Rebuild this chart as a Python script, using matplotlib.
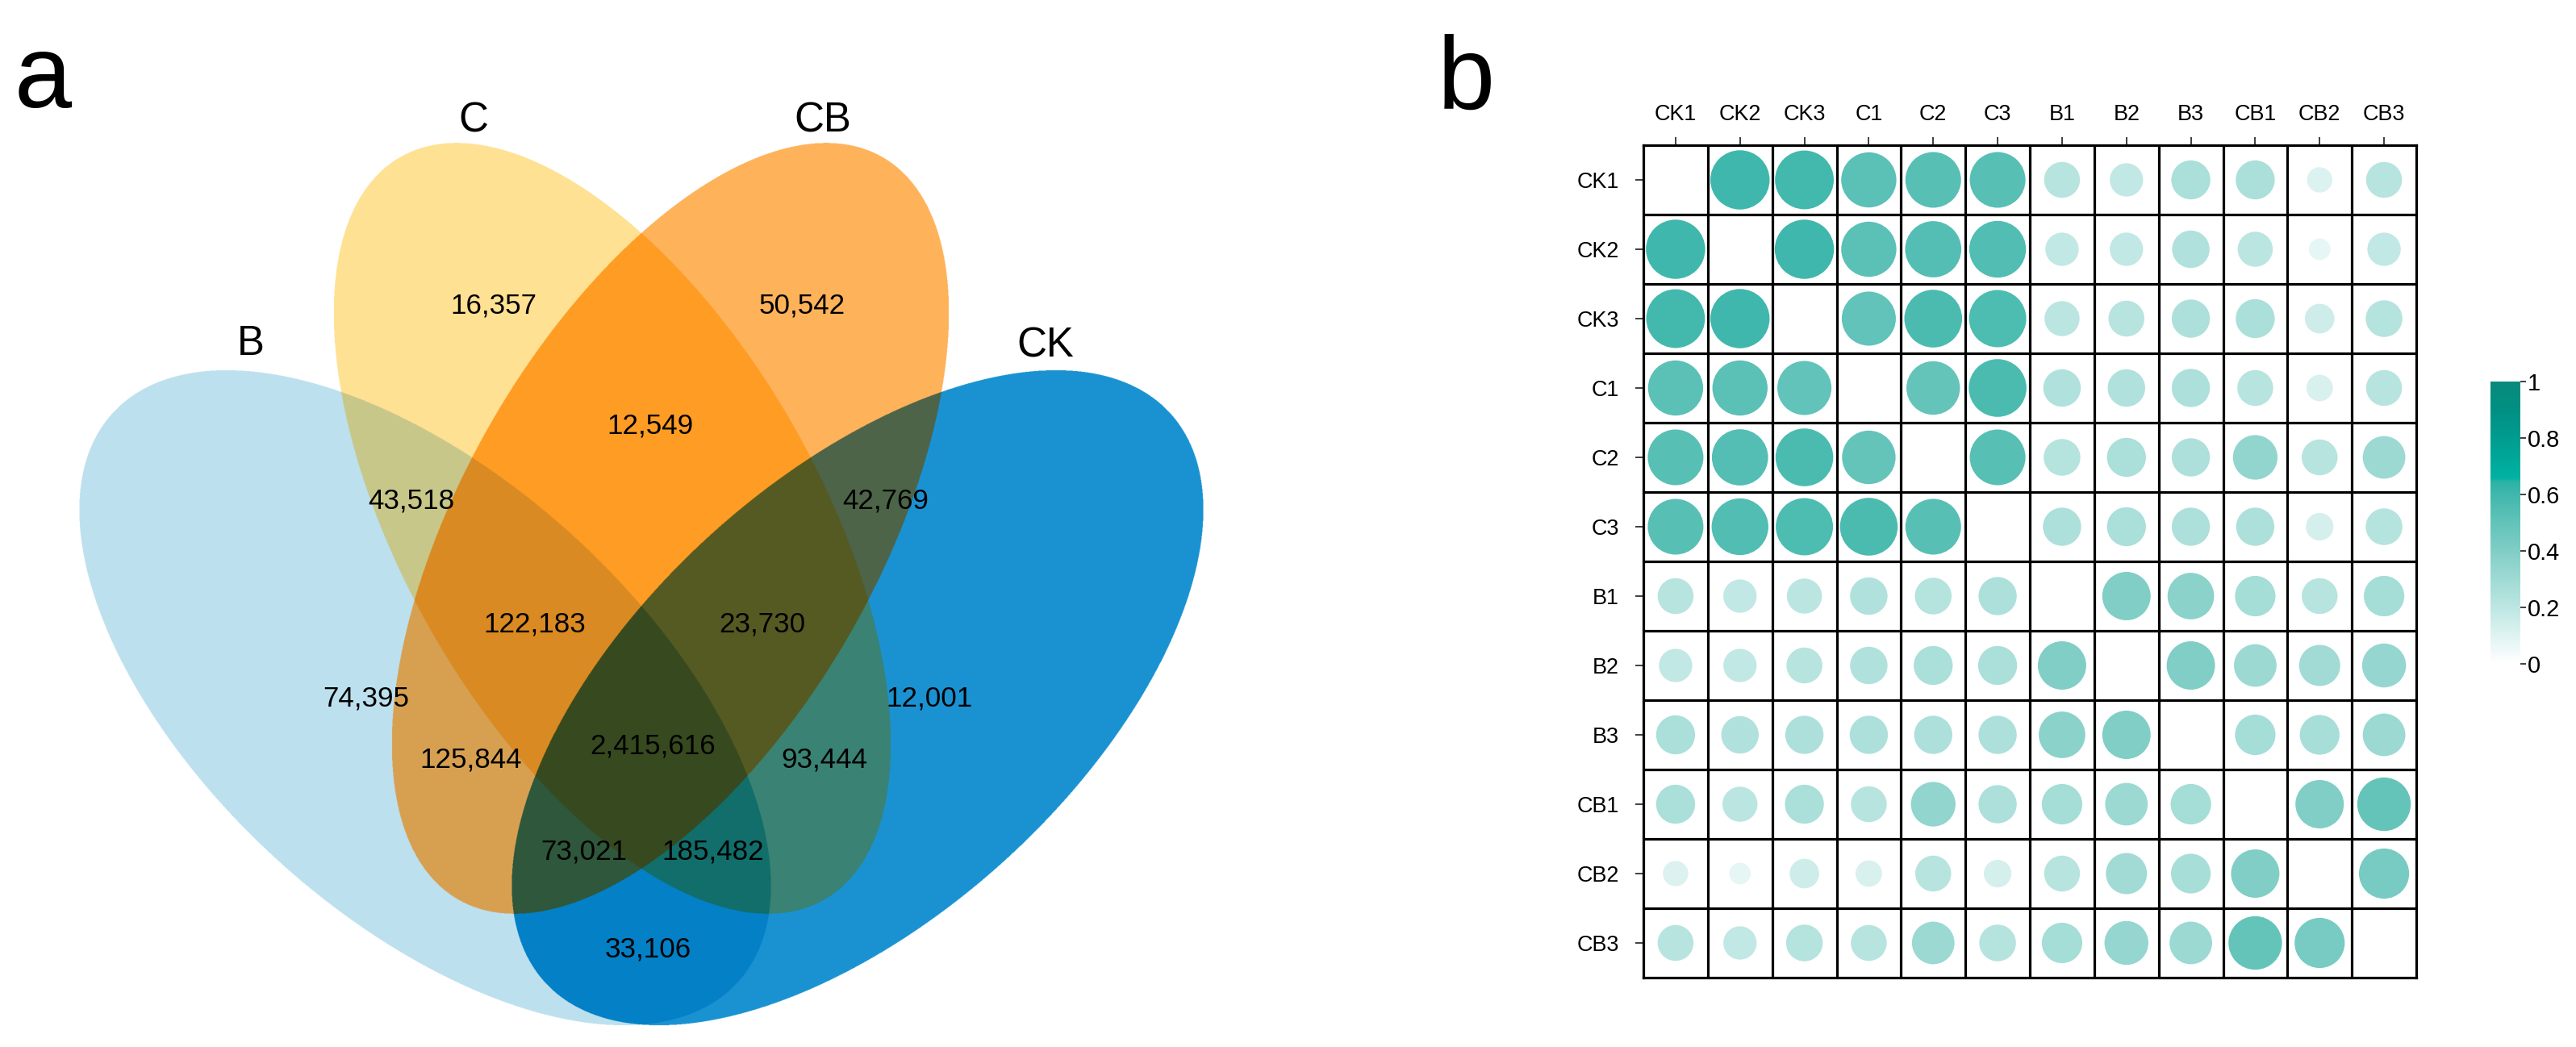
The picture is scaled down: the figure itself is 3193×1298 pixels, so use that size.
import numpy as np
import matplotlib
matplotlib.use('Agg')
import matplotlib.pyplot as plt
from matplotlib.colors import LinearSegmentedColormap, Normalize
from matplotlib.cm import ScalarMappable

plt.rcParams['font.family'] = ['Liberation Sans', 'DejaVu Sans']

W, H, DPI = 3193, 1298, 100
PX = 72 / DPI  # points per pixel

# ---- data: Venn (panel a) ----
set_names = ['B', 'C', 'CB', 'CK']
regions = ['B', 'C', 'CB', 'CK',
           'B&C', 'C&CB', 'CB&CK', 'B&CB', 'C&CK', 'B&CK',
           'B&C&CB', 'C&CB&CK', 'B&CB&CK', 'B&C&CK', 'B&C&CB&CK']
counts = [74395, 16357, 50542, 12001,
          43518, 12549, 42769, 125844, 93444, 33106,
          122183, 23730, 73021, 185482, 2415616]
region_colors = ['#bce0ee', '#fee192', '#feb25a', '#1a92d2',
                 '#c8c78a', '#fe9c24', '#4d6449', '#d7a050', '#3a8273', '#0380c6',
                 '#da8a22', '#555a22', '#2e573b', '#116e6a', '#37491f']

# ---- data: correlation (panel b) ----
samples = ['CK1', 'CK2', 'CK3', 'C1', 'C2', 'C3', 'B1', 'B2', 'B3', 'CB1', 'CB2', 'CB3']
nan = np.nan
corr = np.array([
    [nan, .60, .59, .52, .53, .53, .22, .19, .26, .26, .11, .22],
    [.60, nan, .60, .52, .54, .55, .19, .19, .24, .21, .08, .19],
    [.59, .60, nan, .50, .57, .56, .21, .22, .25, .26, .15, .23],
    [.52, .52, .50, nan, .49, .57, .24, .24, .25, .22, .12, .22],
    [.53, .54, .57, .49, nan, .53, .23, .26, .25, .34, .22, .31],
    [.53, .55, .56, .57, .53, nan, .25, .26, .25, .25, .13, .23],
    [.22, .19, .21, .24, .23, .25, nan, .40, .37, .28, .22, .28],
    [.19, .19, .22, .24, .26, .26, .40, nan, .40, .31, .29, .33],
    [.26, .24, .25, .25, .25, .25, .37, .40, nan, .28, .27, .31],
    [.26, .21, .26, .22, .34, .25, .28, .31, .28, nan, .40, .49],
    [.11, .08, .15, .12, .22, .13, .22, .29, .27, .40, nan, .43],
    [.22, .19, .23, .22, .31, .23, .28, .33, .31, .49, .43, nan],
])
cbar_ticks = [0, 0.2, 0.4, 0.6, 0.8, 1]
cbar_labels = ['0', '0.2', '0.4', '0.6', '0.8', '1']

# ---- layout ----
# ellipses in pixel space: cx, cy, a, b, angle (deg, y up)
ellipses = {
    'B':  (527, 865, 524, 272, 137.7),
    'C':  (759, 655, 530, 258, 119.7),
    'CB': (831, 655, 530, 258, 60.3),
    'CK': (1063, 865, 524, 272, 42.3),
}
name_pos = {'B': (311, 427), 'C': (587, 150), 'CB': (1020, 150), 'CK': (1296, 429)}
count_pos = {'B': (454, 866), 'C': (612, 379), 'CB': (994, 379), 'CK': (1152, 866),
             'B&C': (510, 621), 'C&CB': (806, 528), 'CB&CK': (1098, 621),
             'B&CB': (584, 942), 'C&CK': (1022, 942), 'B&CK': (803, 1177),
             'B&C&CB': (663, 774), 'C&CB&CK': (945, 774), 'B&CB&CK': (724, 1056),
             'B&C&CK': (884, 1056), 'B&C&CB&CK': (809, 925)}

fig = plt.figure(figsize=(W / DPI, H / DPI), dpi=DPI)
fig.patch.set_facecolor('white')

# ---------- panel a ----------
ax = fig.add_axes([0, 0, 1, 1])
ax.set_xlim(0, W)
ax.set_ylim(H, 0)
ax.axis('off')

x0, x1, y0, y1 = 60, 1530, 150, 1298
step = 0.5
xs = np.arange(x0, x1, step, dtype=np.float32) + step / 2
ys = np.arange(y0, y1, step, dtype=np.float32) + step / 2
XX, YY = np.meshgrid(xs, ys)

code = np.zeros(XX.shape, dtype=np.uint8)
for bit, name in enumerate(set_names):
    cx, cy, a, b, ang = ellipses[name]
    t = np.deg2rad(ang)
    dx = XX - cx
    dy = cy - YY
    u = dx * np.cos(t) + dy * np.sin(t)
    v = -dx * np.sin(t) + dy * np.cos(t)
    code |= (((u / a) ** 2 + (v / b) ** 2) <= 1).astype(np.uint8) << bit
del XX, YY

palette = np.full((16, 3), 255, dtype=np.uint8)
for reg, col in zip(regions, region_colors):
    idx = sum(1 << set_names.index(s) for s in reg.split('&'))
    palette[idx] = [int(col[i:i + 2], 16) for i in (1, 3, 5)]
img = palette[code]
ax.imshow(img, extent=(x0, x1, y1, y0), interpolation='antialiased',
          interpolation_stage='rgba', zorder=1)
ax.set_xlim(0, W)
ax.set_ylim(H, 0)

for name in set_names:
    x, y = name_pos[name]
    ax.text(x, y, name, fontsize=51 * PX, ha='center', va='center', zorder=3)
for reg, n in zip(regions, counts):
    x, y = count_pos[reg]
    ax.text(x, y, f'{n:,}', fontsize=35 * PX, ha='center', va='center', zorder=3)

ax.text(18, 133, 'a', fontsize=128 * PX, ha='left', va='baseline')
ax.text(1782, 135, 'b', fontsize=128 * PX, ha='left', va='baseline')

# ---------- panel b ----------
cmap = LinearSegmentedColormap.from_list('teal', [
    (0.0, '#ffffff'), (0.1, '#dff3f1'), (0.2, '#bde6e2'), (0.3, '#9fdad4'),
    (0.4, '#80cec6'), (0.5, '#62c3b9'), (0.6, '#40b7ac'), (0.645, '#2cb2a6'),
    (0.66, '#00b1a1'), (0.7, '#00ac9d'), (0.8, '#009c8f'), (0.9, '#009083'),
    (1.0, '#0a8a7d')])
norm = Normalize(0, 1)

gl, gr, gt, gb = 2037, 2995, 180, 1212
n = len(samples)
bx = fig.add_axes([gl / W, 1 - gb / H, (gr - gl) / W, (gb - gt) / H])
bx.set_xlim(0, n)
bx.set_ylim(n, 0)

cell_w = (gr - gl) / n
rows, cols = np.where(~np.isnan(corr))
vals = corr[rows, cols]
diam = 0.92 * cell_w * np.sqrt(vals / 0.6)
bx.scatter(cols + 0.5, rows + 0.5, s=(diam * PX) ** 2, c=vals, cmap=cmap, norm=norm,
           edgecolors='none', zorder=2)

lw = 3.2 * PX
bx.vlines(np.arange(1, n), 0, n, color='black', lw=lw, zorder=3)
bx.hlines(np.arange(1, n), 0, n, color='black', lw=lw, zorder=3)
for sp in bx.spines.values():
    sp.set_linewidth(lw)
    sp.set_zorder(4)

bx.set_xticks(np.arange(n) + 0.5)
bx.set_xticklabels(samples)
bx.set_yticks(np.arange(n) + 0.5)
bx.set_yticklabels(samples)
bx.xaxis.tick_top()
bx.tick_params(axis='x', length=10 * PX, width=2 * PX, color='#444444',
               pad=15 * PX, labelsize=27 * PX)
bx.tick_params(axis='y', length=10 * PX, width=2 * PX, color='#444444',
               pad=20 * PX, labelsize=27 * PX)

cax = fig.add_axes([3087 / W, 1 - 823 / H, 37 / W, 350 / H])
cb = fig.colorbar(ScalarMappable(norm=norm, cmap=cmap), cax=cax, ticks=cbar_ticks)
cb.outline.set_visible(False)
cb.set_ticklabels(cbar_labels)
cax.tick_params(length=7 * PX, width=2 * PX, color='#444444', pad=1,
                labelsize=29 * PX)

fig.savefig('out.png', dpi=DPI, facecolor='white')
